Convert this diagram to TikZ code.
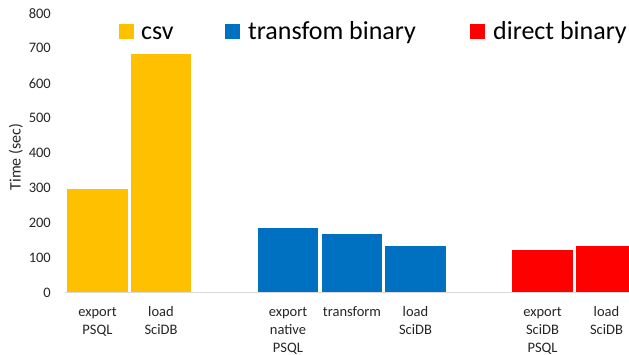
\documentclass[tikz,border=0pt]{standalone}
\usepackage{fontspec}
\setmainfont{Carlito}
\definecolor{csvc}{HTML}{FFC000}
\definecolor{tbc}{HTML}{0070C0}
\definecolor{dbc}{HTML}{FF0000}
\definecolor{axisc}{HTML}{D9D9D9}
\definecolor{txtc}{HTML}{262626}
\begin{document}
\begin{tikzpicture}[x=1pt,y=-1pt,
  ticklab/.style={anchor=east,inner sep=0pt,text=txtc,font=\fontsize{14.5}{16}\selectfont},
  catlab/.style={anchor=base,inner sep=0pt,align=center,text=txtc,font=\fontsize{14.5}{18}\selectfont},
  leglab/.style={anchor=base west,inner sep=0pt,text=black,font=\fontsize{26}{30}\selectfont},
  axlab/.style={rotate=90,inner sep=0pt,text=txtc,font=\fontsize{16}{18}\selectfont}]
\useasboundingbox (0,0) rectangle (629,354);
\fill[white] (0,0) rectangle (629,354);
\begin{scope}
\clip (0,0) rectangle (629,354);
\fill[csvc] (67,189) rectangle (128,292);
\fill[csvc] (131,54) rectangle (191,292);
\fill[tbc] (258,228) rectangle (318,292);
\fill[tbc] (322,234) rectangle (382,292);
\fill[tbc] (385,246) rectangle (446,292);
\fill[dbc] (512,250) rectangle (573,292);
\fill[dbc] (576,246) rectangle (637,292);
\draw[axisc,line width=1pt] (65,292) -- (629,292);
\end{scope}
% tick labels
\foreach \v [count=\i from 0] in {0,100,200,300,400,500,600,700,800}
  \node[ticklab] (t\v) at (51,{293.3-35*\i}) {\v};
\node[axlab] (ylab) at (16,157) {Time (sec)};
% category labels (anchor at baseline of last line)
\node[catlab] (c1) at (97.5,334.5) {export\\PSQL};
\node[catlab] (c2) at (161,334.5) {load\\SciDB};
\node[catlab] (c3) at (288,352.5) {export\\native\\PSQL};
\node[catlab] (c4) at (352,316.5) {transform};
\node[catlab] (c5) at (415.5,334.5) {load\\SciDB};
\node[catlab] (c6) at (542.5,352.5) {export\\SciDB\\PSQL};
\node[catlab] (c7) at (606.5,334.5) {load\\SciDB};
% legend
\fill[csvc] (119,24) rectangle (134,39);
\node[leglab] (l1) at (141,39) {csv};
\fill[tbc] (225,24) rectangle (240,39);
\node[leglab] (l2) at (248,39) {transfom binary};
\fill[dbc] (470,24) rectangle (485,39);
\node[leglab] (l3) at (493,39) {direct binary};
\end{tikzpicture}
\end{document}
